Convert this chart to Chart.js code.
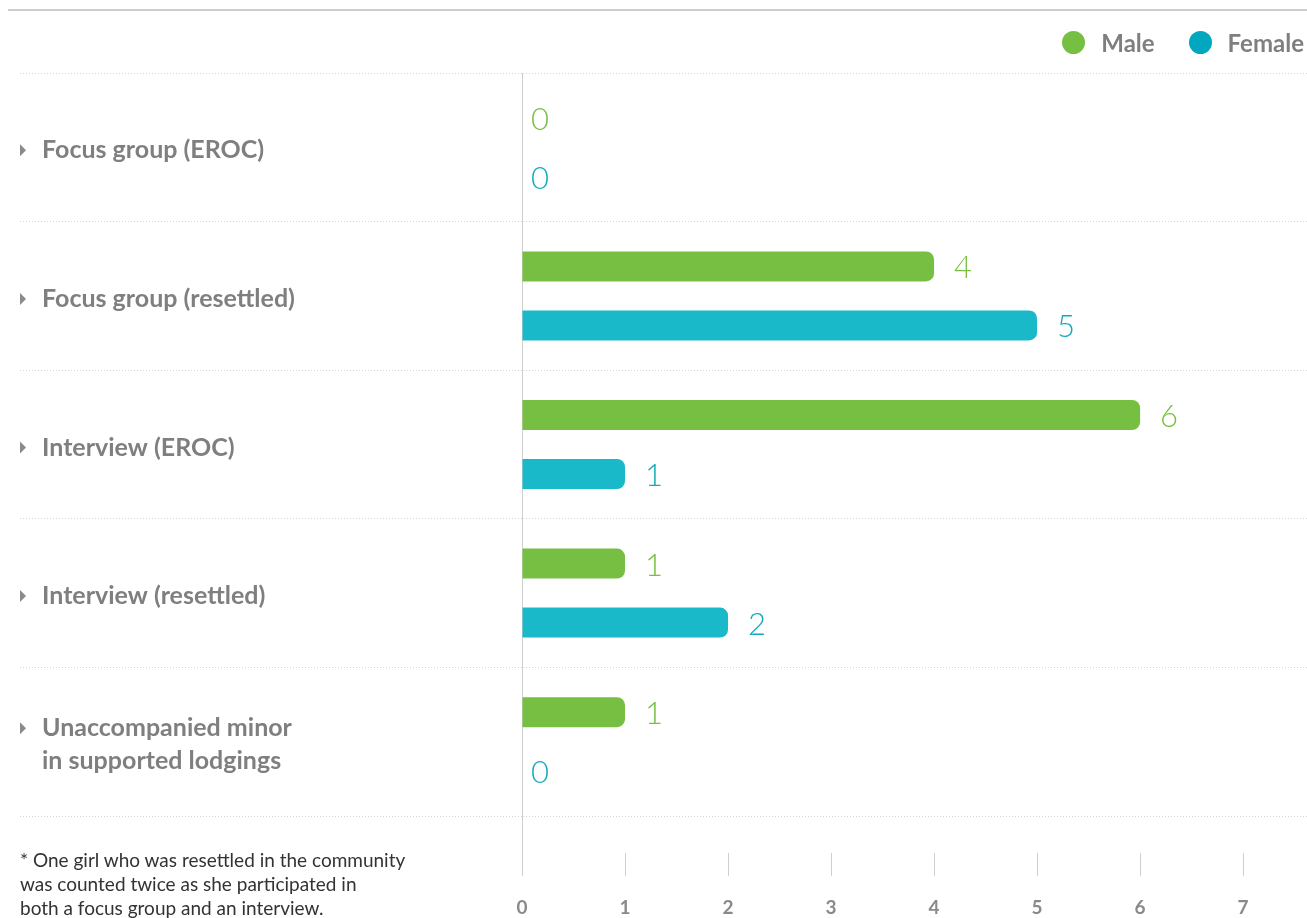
<!DOCTYPE html>
<html>
<head>
<meta charset="utf-8">
<script src="https://cdn.jsdelivr.net/npm/chart.js@4/dist/chart.umd.min.js"></script>
<style>
  html, body { margin: 0; padding: 0; background: #fff; }
  #wrap { position: relative; width: 1307px; height: 918px; overflow: hidden; }
  #topline { position: absolute; left: 8px; right: 0; top: 9px; border-top: 2px solid #cdcdcd; }
  #legend { position: absolute; right: 3px; top: 28px; display: flex; font: bold 24px Lato, sans-serif; color: #7f7f7f; }
  #legend span { display: flex; align-items: center; margin-left: 34px; }
  #legend i { display: inline-block; width: 23px; height: 23px; border-radius: 50%; margin-right: 16px; }
  #note { position: absolute; left: 20px; top: 848px; font: 19px Lato, sans-serif; line-height: 24px; color: #333; }
</style>
</head>
<body>
<div id="wrap">
  <canvas id="participantsChart" width="1307" height="918"></canvas>
  <div id="topline"></div>
  <div id="legend"></div>
  <div id="note">* One girl who was resettled in the community<br>was counted twice as she participated in<br>both a focus group and an interview.</div>
</div>
<script>
const categories = [
    'Focus group (EROC)',
    'Focus group (resettled)',
    'Interview (EROC)',
    'Interview (resettled)',
    ['Unaccompanied minor', 'in supported lodgings']
];
const seriesNames = ['Male', 'Female'];
const maleValues = [0, 4, 6, 1, 1];
const femaleValues = [0, 5, 1, 2, 0];
const xTicks = [0, 1, 2, 3, 4, 5, 6, 7];

const green = '#77bf43';
const teal = '#19b9c9';
const legendTeal = '#00a7bf';
const textTeal = '#14aabd';

// html legend
const legendColors = [green, legendTeal];
document.getElementById('legend').innerHTML = seriesNames
    .map((name, i) => '<span><i style="background:' + legendColors[i] + '"></i>' + name + '</span>')
    .join('');

// value labels at the end of each bar
const valueLabels = {
    id: 'valueLabels',
    afterDatasetsDraw(chart) {
        const ctx = chart.ctx;
        ctx.save();
        ctx.font = '300 31px Lato';
        ctx.textBaseline = 'middle';
        chart.data.datasets.forEach((ds, i) => {
            chart.getDatasetMeta(i).data.forEach((bar, j) => {
                const v = ds.data[j];
                ctx.fillStyle = ds.labelColor;
                ctx.fillText(v, bar.x + (v === 0 ? 9 : 20), bar.y + 2);
            });
        });
        ctx.restore();
    }
};

// little triangles in front of the category names
const labelArrows = {
    id: 'labelArrows',
    afterDraw(chart) {
        const ctx = chart.ctx;
        const yScale = chart.scales.y;
        ctx.save();
        ctx.fillStyle = '#8a8a8a';
        categories.forEach((label, i) => {
            let y = yScale.getPixelForTick(i) + 3;
            if (Array.isArray(label)) y -= 33 * (label.length - 1) / 2;
            ctx.beginPath();
            ctx.moveTo(20, y - 6);
            ctx.lineTo(26, y);
            ctx.lineTo(20, y + 6);
            ctx.closePath();
            ctx.fill();
        });
        ctx.restore();
    }
};

const ctx = document.getElementById('participantsChart').getContext('2d');
const participantsChart = new Chart(ctx, {
    type: 'bar',
    data: {
        labels: categories,
        datasets: [{
            label: seriesNames[0],
            data: maleValues,
            backgroundColor: green,
            labelColor: green,
            borderRadius: 8,
            borderSkipped: 'start'
        }, {
            label: seriesNames[1],
            data: femaleValues,
            backgroundColor: teal,
            labelColor: textTeal,
            borderRadius: 8,
            borderSkipped: 'start'
        }]
    },
    options: {
        indexAxis: 'y',
        responsive: false,
        animation: false,
        categoryPercentage: 0.794,
        barPercentage: 0.508,
        layout: { padding: { left: 42, right: 0, top: 73, bottom: 0 } },
        plugins: {
            legend: { display: false },
            tooltip: { enabled: false }
        },
        scales: {
            x: {
                min: 0,
                max: 7.62,
                afterBuildTicks(scale) {
                    scale.ticks = xTicks.map(v => ({ value: v }));
                },
                afterFit(scale) { scale.height = 102; },
                border: { display: false },
                grid: {
                    drawOnChartArea: false,
                    tickLength: 60,
                    tickColor: '#cfcfcf',
                    tickWidth: 1,
                    tickBorderDash: c => c.index === 0 ? [] : [23, 37],
                    tickBorderDashOffset: c => c.index === 0 ? 0 : 23
                },
                ticks: {
                    padding: 20,
                    color: '#8a8a8a',
                    font: { family: 'Lato', size: 19, weight: 'bold' }
                }
            },
            y: {
                afterFit(scale) { scale.width = 480; },
                border: { display: true, color: '#cfcfcf', width: 1, dash: [1, 2] },
                grid: {
                    offset: true,
                    color: '#d6d6d6',
                    lineWidth: 1,
                    tickLength: 502,
                    tickColor: '#d6d6d6',
                    tickBorderDash: [1, 2]
                },
                ticks: {
                    crossAlign: 'far',
                    labelOffset: 3,
                    color: '#7f7f7f',
                    font: { family: 'Lato', size: 25, weight: 'bold', lineHeight: 1.32 }
                }
            }
        }
    },
    plugins: [valueLabels, labelArrows]
});
</script>
</body>
</html>
